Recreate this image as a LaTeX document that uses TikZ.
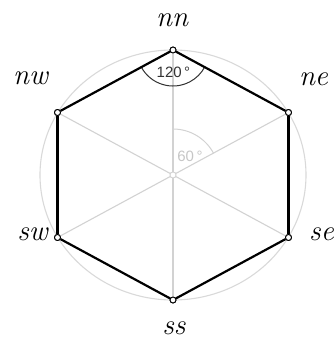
\documentclass[tikz,border=0pt]{standalone}
\usepackage{fontspec}
\newfontfamily\anglefont{Liberation Sans}
\usetikzlibrary{positioning}

\begin{document}
\begin{tikzpicture}[x=1pt, y=1pt,
  vtx/.style={draw, circle, fill=white, inner sep=0pt, minimum size=6pt, line width=0.9pt},
  ctr/.style={draw=gray!35, circle, fill=white, inner sep=0pt, minimum size=6pt, line width=0.8pt},
  spoke/.style={gray!35, line width=1.1pt},
  side/.style={black, line width=2.2pt},
  lbl/.style={font=\itshape\fontsize{29}{32}\selectfont, inner sep=1pt},
  ang/.style={font=\anglefont\fontsize{15}{16}\selectfont, inner sep=0pt}]
\useasboundingbox (0,0) rectangle (336,341);

% circumscribed circle
\draw[gray!30, line width=1.1pt] (173,166) ellipse [x radius=133, y radius=125];

% centre and corners
\node[ctr] (c) at (173,166) {};
\node[vtx] (nn) at (173,291) {};
\node[vtx] (ne) at (288.5,228.5) {};
\node[vtx] (se) at (288.5,103.5) {};
\node[vtx] (ss) at (173,41) {};
\node[vtx] (sw) at (57.5,103.5) {};
\node[vtx] (nw) at (57.5,228.5) {};

% spokes
\foreach \v in {nn,ne,se,ss,sw,nw}
  \draw[spoke] (c) -- (\v);

% angles
\draw[gray!35, line width=1pt] ([shift={(28:46)}]c.center) arc[start angle=28, end angle=90, radius=46];
\node[ang, text=gray!45] (a60) at (190,185) {60\,°};
\draw[black!80, line width=1pt] ([shift={(208:36)}]nn.center) arc[start angle=208, end angle=332, radius=36];
\node[ang, text=black!80] (a120) at (173.5,268.5) {120\,°};

% sides
\draw[side] (nn) -- (ne);
\draw[side] (ne) -- (se);
\draw[side] (se) -- (ss);
\draw[side] (ss) -- (sw);
\draw[side] (sw) -- (nw);
\draw[side] (nw) -- (nn);

% redraw corners on top
\foreach \v in {nn,ne,se,ss,sw,nw}
  \node[vtx] at (\v) {};
\node[ctr] at (c) {};

% names
\node[lbl] (lnn) at ([shift={(-1,30)}]nn) {nn};
\node[lbl] (lne) at ([shift={(25,33)}]ne) {ne};
\node[lbl] (lse) at ([shift={(33,3)}]se) {se};
\node[lbl] (lss) at ([shift={(1,-28)}]ss) {ss};
\node[lbl] (lsw) at ([shift={(-25,3)}]sw) {sw};
\node[lbl] (lnw) at ([shift={(-27,34)}]nw) {nw};
\end{tikzpicture}
\end{document}
